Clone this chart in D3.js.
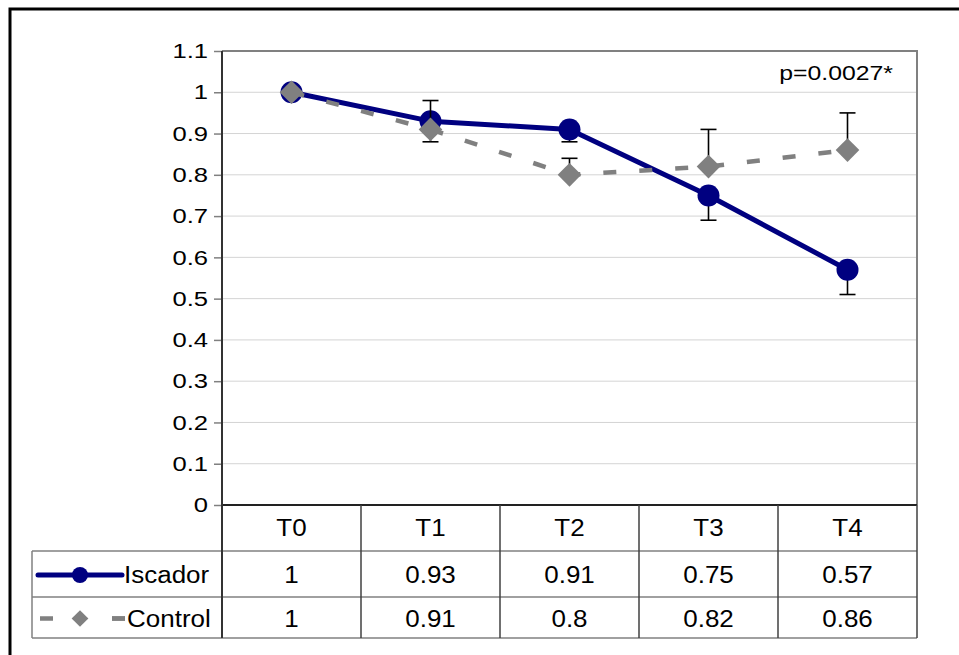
<!DOCTYPE html>
<html>
<head>
<meta charset="utf-8">
<script src="https://cdn.jsdelivr.net/npm/d3@7"></script>
<style>
  body { margin: 0; background: #fff; }
  text { font-family: "Liberation Sans", Arial, sans-serif; fill: #000; }
</style>
</head>
<body>
<script>
const categories = ['T0', 'T1', 'T2', 'T3', 'T4'];
const iscador = [1, 0.93, 0.91, 0.75, 0.57];
const control = [1, 0.91, 0.8, 0.82, 0.86];
// one-sided error bars: Iscador minus, Control plus
const iscadorErr = [0, 0.05, 0.03, 0.06, 0.06];
const controlErr = [0, 0.07, 0.04, 0.09, 0.09];
const yTicks = [0, 0.1, 0.2, 0.3, 0.4, 0.5, 0.6, 0.7, 0.8, 0.9, 1, 1.1];
const pLabel = 'p=0.0027*';

const width = 959;
const height = 655;
const plotLeft = 222, plotRight = 917, plotTop = 51, plotBottom = 505;
const row1 = 551, row2 = 597, row3 = 638, tableLeft = 32;
// text in the original is a little wider than plain Arial
const axisFont = 21, axisStretch = 1.22;
const tableFont = 23, tableStretch = 1.13;

const svg = d3.select('body').append('svg')
  .attr('width', width)
  .attr('height', height);

// places a horizontally stretched label
function label(parent, tx, ty, str, size, sx, anchor) {
  return parent.append('text')
    .attr('transform', 'translate(' + tx + ',' + ty + ') scale(' + sx + ',1)')
    .attr('dy', '0.35em')
    .attr('text-anchor', anchor || 'middle')
    .attr('font-size', size)
    .text(str);
}

// outer frame (top and left visible)
svg.append('path')
  .attr('d', 'M 10 ' + (height + 5) + ' L 10 9 L ' + (width + 5) + ' 9')
  .attr('fill', 'none')
  .attr('stroke', '#000')
  .attr('stroke-width', 3);

const x = d3.scaleBand().domain(categories).range([plotLeft, plotRight]);
const y = d3.scaleLinear().domain([0, 1.1]).range([plotBottom, plotTop]);
const cx = d => x(d) + x.bandwidth() / 2;

// gridlines
svg.append('g')
  .selectAll('line')
  .data(yTicks.slice(1, -1))
  .enter()
  .append('line')
  .attr('x1', plotLeft)
  .attr('x2', plotRight)
  .attr('y1', d => y(d))
  .attr('y2', d => y(d))
  .attr('stroke', '#d4d4d4')
  .attr('stroke-width', 1);

// plot area border top/right
svg.append('path')
  .attr('d', 'M ' + plotLeft + ' ' + y(1.1) + ' L ' + plotRight + ' ' + y(1.1) + ' L ' + plotRight + ' ' + plotBottom)
  .attr('fill', 'none')
  .attr('stroke', '#808080')
  .attr('stroke-width', 2);

// y axis
const yAxis = d3.axisLeft(y)
  .tickValues(yTicks)
  .tickSize(8)
  .tickPadding(6)
  .tickFormat(d => d3.format('~g')(+d.toFixed(1)));
const ya = svg.append('g')
  .attr('transform', 'translate(' + plotLeft + ',0)')
  .call(yAxis);
ya.select('.domain').remove();
ya.selectAll('.tick line').attr('stroke', '#808080').attr('stroke-width', 1.5);
ya.selectAll('.tick text')
  .attr('font-size', axisFont)
  .attr('font-family', '"Liberation Sans", Arial, sans-serif')
  .attr('fill', '#000')
  .attr('x', -14 / axisStretch)
  .attr('transform', 'scale(' + axisStretch + ',1)');

// table grid
const tbl = svg.append('g');
const hLines = [[plotLeft, plotBottom], [tableLeft, row1], [tableLeft, row2], [tableLeft, row3]];
tbl.selectAll('line.h')
  .data(hLines)
  .enter()
  .append('line')
  .attr('class', 'h')
  .attr('x1', d => d[0])
  .attr('x2', plotRight)
  .attr('y1', d => d[1])
  .attr('y2', d => d[1])
  .attr('stroke', (d, i) => i === 0 ? '#222' : '#808080')
  .attr('stroke-width', (d, i) => i === 0 ? 2 : 1.5);
const vLines = categories.map(c => x(c) + x.bandwidth());
tbl.selectAll('line.v')
  .data(vLines)
  .enter()
  .append('line')
  .attr('class', 'v')
  .attr('x1', d => d)
  .attr('x2', d => d)
  .attr('y1', plotBottom)
  .attr('y2', row3)
  .attr('stroke', '#404040')
  .attr('stroke-width', 1.5);
tbl.append('line')
  .attr('x1', tableLeft).attr('x2', tableLeft)
  .attr('y1', row1).attr('y2', row3)
  .attr('stroke', '#808080').attr('stroke-width', 1.5);
// y axis line through table
svg.append('line')
  .attr('x1', plotLeft).attr('x2', plotLeft)
  .attr('y1', plotTop).attr('y2', row3)
  .attr('stroke', '#333').attr('stroke-width', 2);

// category labels and values
categories.forEach((c, i) => {
  label(tbl, cx(c), (plotBottom + row1) / 2, c, tableFont, tableStretch);
  label(tbl, cx(c), (row1 + row2) / 2 + 1, iscador[i], tableFont, tableStretch);
  label(tbl, cx(c), (row2 + row3) / 2 + 1, control[i], tableFont, tableStretch);
});

const diamond = d3.symbol().type(d3.symbolSquare).size(280);

// legend keys in table
const ly1 = (row1 + row2) / 2 + 1;
const ly2 = (row2 + row3) / 2 + 1;
tbl.append('line')
  .attr('x1', 38).attr('x2', 122).attr('y1', ly1).attr('y2', ly1)
  .attr('stroke', '#000080').attr('stroke-width', 5).attr('stroke-linecap', 'round');
tbl.append('circle').attr('cx', 80).attr('cy', ly1).attr('r', 8).attr('fill', '#000080');
label(tbl, 124, ly1, 'Iscador', tableFont, tableStretch, 'start');
tbl.append('line')
  .attr('x1', 40).attr('x2', 125).attr('y1', ly2).attr('y2', ly2)
  .attr('stroke', '#808080').attr('stroke-width', 4.5)
  .attr('stroke-dasharray', '13,59');
tbl.append('line')
  .attr('x1', 112).attr('x2', 125).attr('y1', ly2).attr('y2', ly2)
  .attr('stroke', '#808080').attr('stroke-width', 4.5);
tbl.append('path')
  .attr('d', d3.symbol().type(d3.symbolSquare).size(140)())
  .attr('transform', 'translate(80,' + ly2 + ') rotate(45)')
  .attr('fill', '#808080');
label(tbl, 127, ly2, 'Control', tableFont, tableStretch, 'start');

// error bars
function errorBars(vals, errs, sign) {
  const g = svg.append('g').attr('stroke', '#000').attr('stroke-width', 1.6);
  vals.forEach((v, i) => {
    if (!errs[i]) return;
    const px = cx(categories[i]);
    const e = v + sign * errs[i];
    g.append('line').attr('x1', px).attr('x2', px).attr('y1', y(v)).attr('y2', y(e));
    g.append('line').attr('x1', px - 8).attr('x2', px + 8).attr('y1', y(e)).attr('y2', y(e));
  });
}

const line = d3.line()
  .x((d, i) => cx(categories[i]))
  .y(d => y(d));

// Iscador
errorBars(iscador, iscadorErr, -1);
svg.append('path')
  .datum(iscador)
  .attr('d', line)
  .attr('fill', 'none')
  .attr('stroke', '#000080')
  .attr('stroke-width', 5)
  .attr('stroke-linejoin', 'round');
svg.append('g')
  .selectAll('circle')
  .data(iscador)
  .enter()
  .append('circle')
  .attr('cx', (d, i) => cx(categories[i]))
  .attr('cy', d => y(d))
  .attr('r', 11)
  .attr('fill', '#000080');

// Control
errorBars(control, controlErr, 1);
svg.append('path')
  .datum(control)
  .attr('d', line)
  .attr('fill', 'none')
  .attr('stroke', '#808080')
  .attr('stroke-width', 4.5)
  .attr('stroke-dasharray', '13,23');
svg.append('g')
  .selectAll('path')
  .data(control)
  .enter()
  .append('path')
  .attr('d', diamond)
  .attr('transform', (d, i) => 'translate(' + cx(categories[i]) + ',' + y(d) + ') rotate(45)')
  .attr('fill', '#808080');

// p value annotation
label(svg, 893, 73, pLabel, axisFont - 1, 1.24, 'end');
</script>
</body>
</html>
